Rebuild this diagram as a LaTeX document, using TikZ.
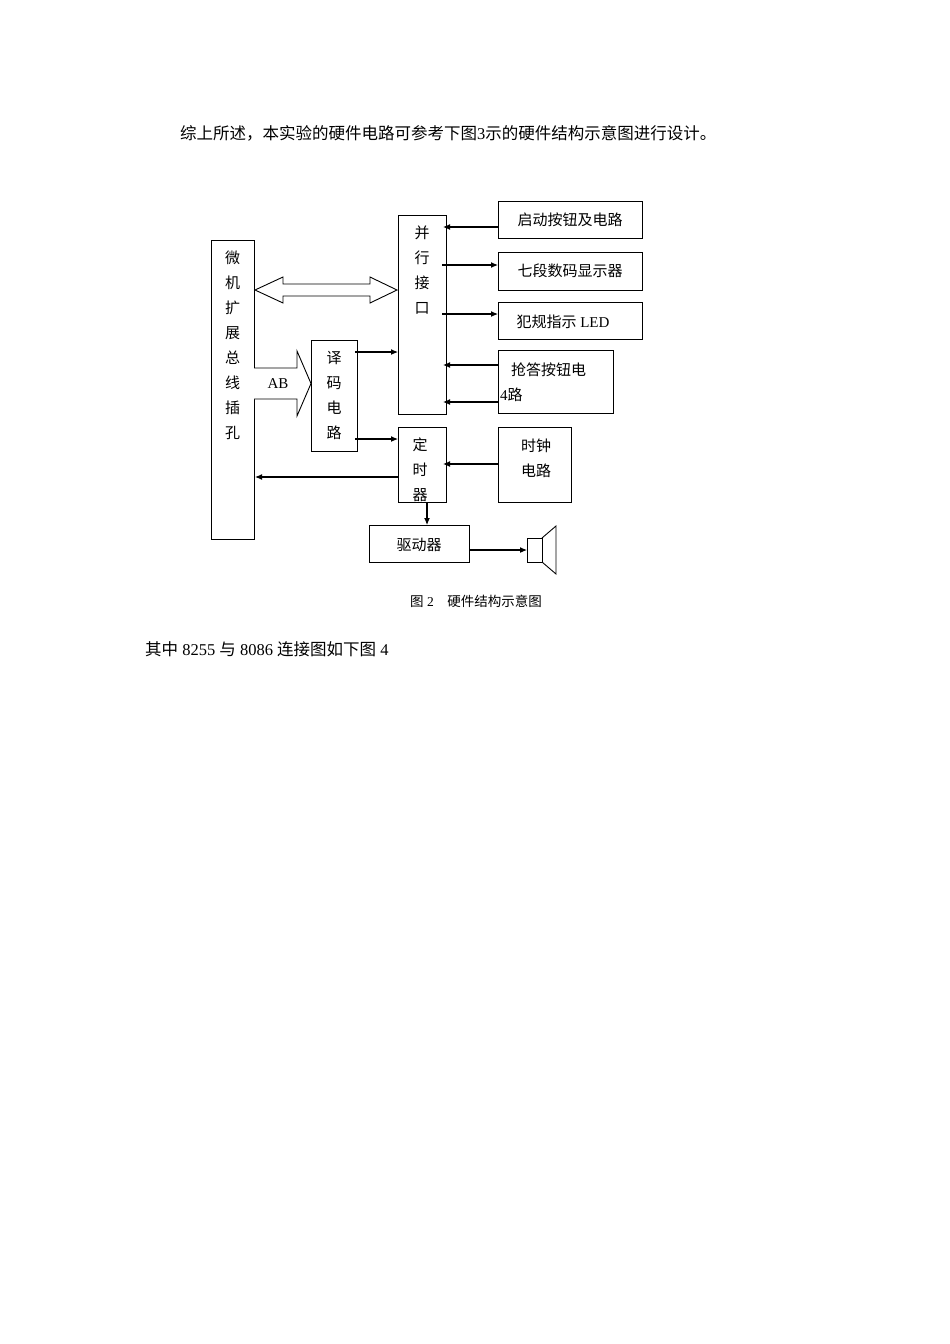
\documentclass[tikz,border=0pt]{standalone}
\usepackage{fontspec}
\setmainfont{Liberation Serif}
\newfontfamily\cjk{Noto Sans CJK SC}
\newcommand\lat[1]{{\rmfamily #1}}
\begin{document}
\begin{tikzpicture}[x=1pt,y=-1pt,
  box/.style={draw,line width=0.9pt},
  txt/.style={font=\cjk\fontsize{15}{25}\selectfont,inner sep=0pt},
  arr/.style={line width=1.1pt,-{Latex[length=7pt,width=6pt]}}]
\usetikzlibrary{arrows.meta}
\useasboundingbox (0,0) rectangle (950,1344);
\node[anchor=west,font=\cjk\fontsize{16.5}{20}\selectfont,inner sep=0pt] (t1) at (180,133) {综上所述，本实验的硬件电路可参考下图\lat{3}示的硬件结构示意图进行设计。};
% boxes
\draw[box] (211,240) rectangle (254,539) coordinate (busbr);
\node[txt,align=center] (bus) at (232.5,345) {微\\机\\扩\\展\\总\\线\\插\\孔};
\draw[box] (398,215) rectangle (446,414);
\node[txt,align=center] (par) at (422,270) {并\\行\\接\\口};
\draw[box] (311,340) rectangle (357,451);
\node[txt,align=center] (dec) at (334,395) {译\\码\\电\\路};
\draw[box] (398,427) rectangle (446,502);
\node[txt,align=center] (tim) at (420,470) {定\\时\\器};
\draw[box] (498,201) rectangle (642,238);
\node[txt] (start) at (570,220) {启动按钮及电路};
\draw[box] (498,252) rectangle (642,290);
\node[txt] (seg) at (570,271) {七段数码显示器};
\draw[box] (498,302) rectangle (642,339);
\node[txt] (led) at (563,322) {犯规指示\lat{ LED}};
\draw[box] (498,350) rectangle (613,413);
\node[txt,anchor=west] (qd) at (511,370) {抢答按钮电};
\node[txt,anchor=west] (qd2) at (500,395) {\lat{4}路};
\draw[box] (498,427) rectangle (571,502);
\node[txt,align=center] (clk) at (536,458) {时钟\\电路};
\draw[box] (369,525) rectangle (469,562);
\node[txt] (drv) at (419,545) {驱动器};
% speaker
\draw[line width=0.9pt] (527,538) rectangle (542,562);
\draw[line width=0.9pt] (542,538) -- (556,526) -- (556,574) -- (542,562);
% double arrow
\draw[line width=0.9pt] (255,290) -- (283,277) -- (283,284) -- (370,284) -- (370,277) -- (397,290) -- (370,303) -- (370,296) -- (283,296) -- (283,303) -- cycle;
% AB arrow
\draw[line width=0.9pt,fill=white] (254,368) -- (297,368) -- (297,351) -- (311,383.5) -- (297,416) -- (297,399) -- (254,399);
\node[font=\rmfamily\fontsize{15}{18}\selectfont,inner sep=0pt] (ab) at (278,384) {AB};
% arrows
\draw[arr] (498,227) -- (443,227);
\draw[arr] (442,265) -- (498,265);
\draw[arr] (442,314) -- (498,314);
\draw[arr] (498,365) -- (443,365);
\draw[arr] (498,402) -- (443,402);
\draw[arr] (355,352) -- (398,352);
\draw[arr] (355,439) -- (398,439);
\draw[arr] (498,464) -- (443,464);
\draw[arr] (398,477) -- (255,477);
\draw[arr] (427,502) -- (427,525);
\draw[arr] (469,550) -- (527,550);
\node[font=\cjk\fontsize{13.5}{16}\selectfont,inner sep=0pt] (cap) at (476,601) {图\lat{ 2}\quad 硬件结构示意图};
\node[anchor=west,font=\cjk\fontsize{16.5}{20}\selectfont,inner sep=0pt] (t2) at (145,649) {其中\lat{ 8255 }与\lat{ 8086 }连接图如下图\lat{ 4}};
\end{tikzpicture}
\end{document}
